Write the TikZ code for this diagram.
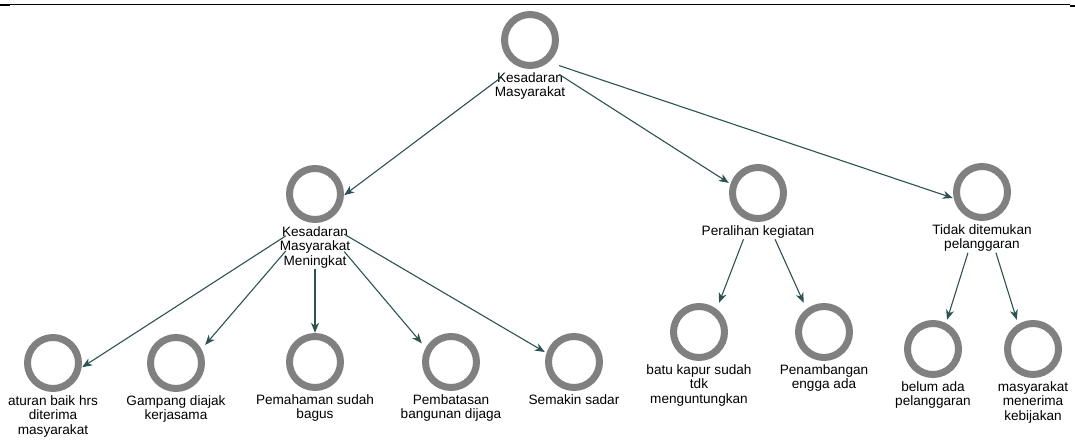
\documentclass[tikz,border=0pt]{standalone}
\usepackage{fontspec}
\setmainfont{Liberation Sans}
\usepackage{xcolor}
\usetikzlibrary{arrows.meta,positioning,fit}

\definecolor{ringgray}{RGB}{128,128,128}
\definecolor{edgeteal}{RGB}{45,82,82}

\begin{document}
\begin{tikzpicture}[
    x=1pt, y=-1pt,
    >={Stealth[length=10pt,width=8pt,inset=3pt]},
    font=\fontsize{13.6}{14.5}\selectfont,
    concept/.style={
        circle,
        draw=ringgray,
        line width=7pt,
        minimum size=51pt,
        inner sep=0pt
    },
    caption/.style={
        align=center,
        inner sep=1pt
    },
    group/.style={
        inner sep=0pt
    },
    edge/.style={->, draw=edgeteal, line width=1.1pt}
]
    \useasboundingbox (0,0) rectangle (1075,444);
    \draw[line width=1pt] (0,5) -- (1070,5);
    \fill (0,4.5) rectangle (10,6.5);
    \fill (1070,5) rectangle (1075,7);

    \node[concept] (rootc) at (530,40) {};
    \node[caption, below=2pt of rootc] (rootl) {Kesadaran\\Masyarakat};

    \node[concept] (meningkatc) at (315,194) {};
    \node[caption, below=2pt of meningkatc] (meningkatl) {Kesadaran\\Masyarakat\\Meningkat};
    \node[concept] (peralihanc) at (758,193) {};
    \node[caption, below=2pt of peralihanc] (peralihanl) {Peralihan kegiatan};
    \node[concept] (tidakc) at (982,192) {};
    \node[caption, below=2pt of tidakc] (tidakl) {Tidak ditemukan\\pelanggaran};

    \node[concept] (aturanc) at (53,363) {};
    \node[caption, below=2pt of aturanc] (aturanl) {aturan baik hrs\\diterima\\masyarakat};
    \node[concept] (gampangc) at (176,363) {};
    \node[caption, below=2pt of gampangc] (gampangl) {Gampang diajak\\kerjasama};
    \node[concept] (pemahamanc) at (315,362) {};
    \node[caption, below=2pt of pemahamanc] (pemahamanl) {Pemahaman sudah\\bagus};
    \node[concept] (pembatasanc) at (451,362) {};
    \node[caption, below=2pt of pembatasanc] (pembatasanl) {Pembatasan\\bangunan dijaga};
    \node[concept] (semakinc) at (574,362) {};
    \node[caption, below=2pt of semakinc] (semakinl) {Semakin sadar};

    \node[concept] (batuc) at (699,332) {};
    \node[caption, below=2pt of batuc] (batul) {batu kapur sudah\\tdk\\menguntungkan};
    \node[concept] (penambanganc) at (824,332) {};
    \node[caption, below=2pt of penambanganc] (penambanganl) {Penambangan\\engga ada};
    \node[concept] (belumc) at (933,349) {};
    \node[caption, below=2pt of belumc] (beluml) {belum ada\\pelanggaran};
    \node[concept] (menerimac) at (1033,349) {};
    \node[caption, below=2pt of menerimac] (menerimal) {masyarakat\\menerima\\kebijakan};

    \node[group, fit=(rootc)(rootl.south)] (root) {};
    \node[group, fit=(meningkatc)(meningkatl.south)] (meningkat) {};
    \node[group, fit=(peralihanc)(peralihanl.south)] (peralihan) {};
    \node[group, fit=(tidakc)(tidakl.south)] (tidak) {};
    \node[group, fit=(aturanc)(aturanl.south)] (aturan) {};
    \node[group, fit=(gampangc)(gampangl.south)] (gampang) {};
    \node[group, fit=(pemahamanc)(pemahamanl.south)] (pemahaman) {};
    \node[group, fit=(pembatasanc)(pembatasanl.south)] (pembatasan) {};
    \node[group, fit=(semakinc)(semakinl.south)] (semakin) {};
    \node[group, fit=(batuc)(batul.south)] (batu) {};
    \node[group, fit=(penambanganc)(penambanganl.south)] (penambangan) {};
    \node[group, fit=(belumc)(beluml.south)] (belum) {};
    \node[group, fit=(menerimac)(menerimal.south)] (menerima) {};

    \draw[edge] (root) -- (meningkat);
    \draw[edge] (root) -- (peralihan);
    \draw[edge] (root) -- (tidak);
    \draw[edge] (meningkat) -- (aturan);
    \draw[edge] (meningkat) -- (gampang);
    \draw[edge] (meningkat) -- (pemahaman);
    \draw[edge] (meningkat) -- (pembatasan);
    \draw[edge] (meningkat) -- (semakin);
    \draw[edge] (peralihan) -- (batu);
    \draw[edge] (peralihan) -- (penambangan);
    \draw[edge] (tidak) -- (belum);
    \draw[edge] (tidak) -- (menerima);
\end{tikzpicture}
\end{document}
